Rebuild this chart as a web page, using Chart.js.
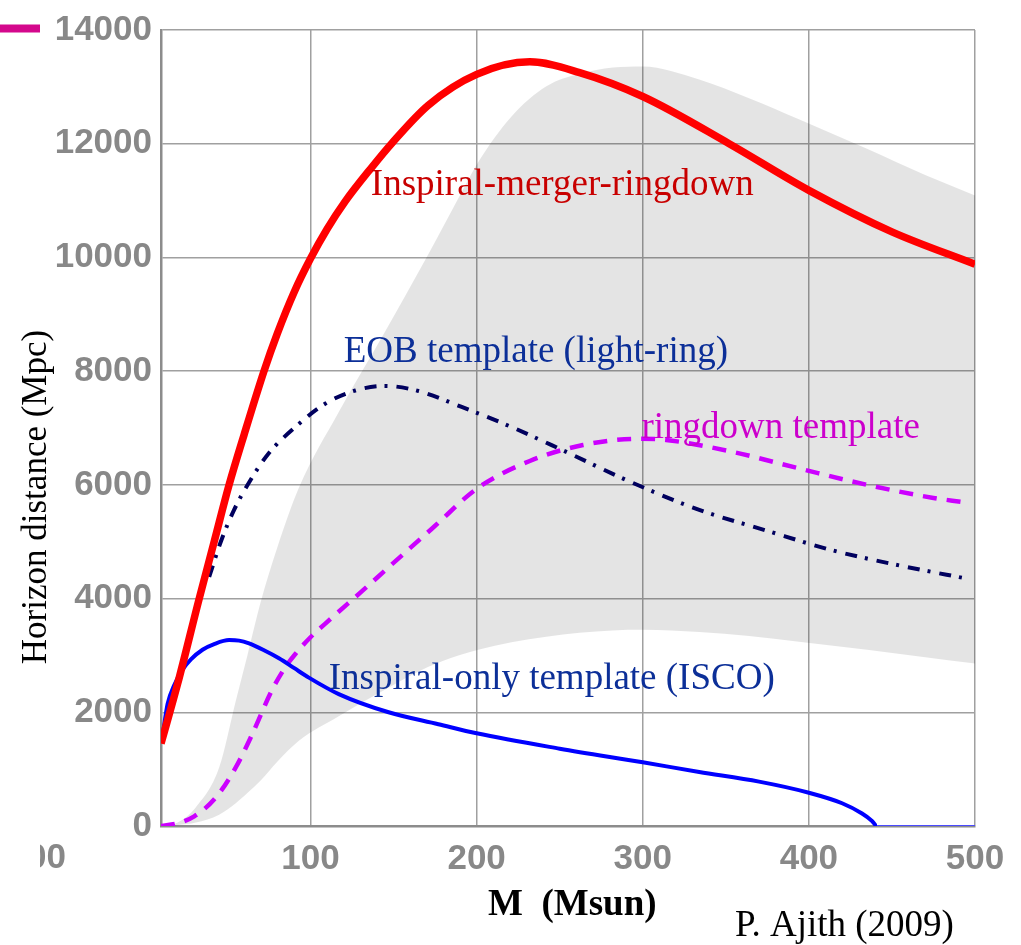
<!DOCTYPE html>
<html>
<head>
<meta charset="utf-8">
<title>Horizon distance</title>
<script src="https://cdn.jsdelivr.net/npm/chart.js@4/dist/chart.umd.min.js"></script>
<style>
  html, body { margin: 0; padding: 0; background: #fff; }
  #wrap { width: 1021px; height: 945px; position: relative; }
</style>
</head>
<body>
<div id="wrap"><canvas id="grafico"></canvas></div>
<script>
// total mass (Msun) and horizon distance (Mpc) for each template family
const imrMass = [10, 20, 33, 42, 51, 60, 72, 80, 90, 100, 110, 121, 137, 149, 171, 200, 232, 262, 300, 352, 400, 450, 500];
const imrDist = [1450, 2500, 4000, 5000, 6000, 6880, 8000, 8660, 9380, 9980, 10500, 10990, 11590, 12010, 12680, 13220, 13440, 13250, 12830, 12000, 11180, 10450, 9880];

const eobMass = [39, 46, 54, 64, 75, 91, 109, 127, 145, 165, 191, 220, 251, 292, 334, 374, 414, 455, 497];
const eobDist = [4380, 5000, 5560, 6090, 6560, 7020, 7430, 7660, 7740, 7650, 7370, 7030, 6620, 6060, 5560, 5200, 4850, 4580, 4340];

const ringMass = [10, 20, 30, 43, 55, 65, 77, 85, 91, 100, 112, 131, 147, 175, 200, 232, 264, 298, 314, 354, 394, 435, 475, 492];
const ringDist = [0, 50, 170, 500, 1030, 1620, 2400, 2800, 3030, 3320, 3640, 4130, 4550, 5280, 5930, 6420, 6700, 6810, 6790, 6580, 6290, 6000, 5770, 5700];

const iscoMass = [11, 14, 18, 23, 28, 35, 42, 51, 57, 63, 72, 81, 90, 99, 117, 147, 177, 200, 250, 300, 334, 370, 400, 420, 432, 438, 441, 500];
const iscoDist = [1600, 2150, 2480, 2750, 2930, 3100, 3200, 3270, 3260, 3210, 3090, 2950, 2780, 2610, 2320, 2000, 1790, 1630, 1360, 1120, 950, 780, 585, 400, 220, 90, 0, 0];

// spread of the IMR horizon (shaded band)
const bandMass = [10, 20, 31, 45, 55, 62, 70, 80, 93, 117, 145, 171, 189, 201, 221, 242, 262, 282, 300, 334, 364, 394, 435, 470, 500];
const bandLow = [0, 15, 60, 200, 400, 580, 800, 1130, 1500, 1930, 2400, 2800, 3000, 3100, 3230, 3330, 3400, 3440, 3450, 3410, 3340, 3240, 3100, 2970, 2860];
const bandHigh = [0, 60, 330, 1030, 2200, 3000, 3940, 4900, 5950, 7280, 8700, 10060, 11040, 11680, 12480, 13010, 13230, 13340, 13360, 13130, 12800, 12430, 11910, 11450, 11090];

const massTicks = [100, 200, 300, 400, 500];

const rotulos = [
  { text: "Inspiral-merger-ringdown", m: 136.3, d: 11090, color: "#c80000" },
  { text: "EOB template (light-ring)", m: 120.0, d: 8160, color: "#0c2f98" },
  { text: "ringdown template", m: 299.2, d: 6818, color: "#cc00cc" },
  { text: "Inspiral-only template (ISCO)", m: 111.0, d: 2406, color: "#0c2f98" },
];

function pontos(xs, ys) {
  return xs.map((x, i) => ({ x: x, y: ys[i] }));
}

const serif = "'Liberation Serif', 'Times New Roman', serif";
const sans = "'Liberation Sans', Arial, sans-serif";

const textos = {
  id: "textos",
  afterDatasetsDraw(chart) {
    const ctx = chart.ctx;
    const sx = chart.scales.x;
    const sy = chart.scales.y;
    ctx.save();
    ctx.textBaseline = "alphabetic";
    ctx.textAlign = "left";
    ctx.font = "37px " + serif;
    rotulos.forEach((r) => {
      ctx.fillStyle = r.color;
      ctx.fillText(r.text, sx.getPixelForValue(r.m), sy.getPixelForValue(r.d));
    });
    ctx.restore();
  },
  afterDraw(chart) {
    const ctx = chart.ctx;
    ctx.save();
    ctx.fillStyle = "#000";
    ctx.textBaseline = "alphabetic";

    ctx.font = "bold 37px " + serif;
    ctx.fillText("M  (Msun)", 488, 915);

    ctx.font = "37px " + serif;
    ctx.fillText("P. Ajith (2009)", 735, 936);

    ctx.save();
    ctx.translate(46, 497);
    ctx.rotate(-Math.PI / 2);
    ctx.textAlign = "center";
    ctx.font = "35px " + serif;
    ctx.fillText("Horizon distance (Mpc)", 0, 0);
    ctx.restore();

    // leftover pieces at the left edge
    ctx.save();
    ctx.beginPath();
    ctx.rect(40, 830, 40, 60);
    ctx.clip();
    ctx.fillStyle = "#888";
    ctx.font = "bold 35px " + sans;
    ctx.textAlign = "right";
    ctx.textBaseline = "middle";
    ctx.fillText("00", 66, 858);
    ctx.restore();

    ctx.strokeStyle = "#d4088c";
    ctx.lineWidth = 8;
    ctx.beginPath();
    ctx.moveTo(0, 28.5);
    ctx.lineTo(40, 28.5);
    ctx.stroke();
    ctx.restore();
  },
};

const linha = {
  pointRadius: 0,
  fill: false,
  cubicInterpolationMode: "monotone",
};

const ctx = document.getElementById("grafico").getContext("2d");

new Chart(ctx, {
  type: "line",
  data: {
    datasets: [
      {
        ...linha,
        label: "Inspiral-merger-ringdown",
        data: pontos(imrMass, imrDist),
        borderColor: "#ff0000",
        borderWidth: 7.5,
      },
      {
        ...linha,
        label: "Inspiral-only template (ISCO)",
        data: pontos(iscoMass, iscoDist),
        borderColor: "#0000ff",
        borderWidth: 4,
        segment: {
          borderWidth: (c) => (c.p0.parsed.y === 0 ? 2 : 4),
          borderColor: (c) => (c.p0.parsed.y === 0 ? "#4b4bff" : "#0000ff"),
        },
      },
      {
        ...linha,
        label: "EOB template (light-ring)",
        data: pontos(eobMass, eobDist),
        borderColor: "#00005e",
        borderWidth: 4,
        borderDash: [12, 8, 3, 9],
      },
      {
        ...linha,
        label: "ringdown template",
        data: pontos(ringMass, ringDist),
        borderColor: "#cc00ff",
        borderWidth: 4.5,
        borderDash: [14, 10],
      },
      {
        ...linha,
        label: "band low",
        data: pontos(bandMass, bandLow),
        borderWidth: 0,
        borderColor: "rgba(0,0,0,0)",
      },
      {
        ...linha,
        label: "band high",
        data: pontos(bandMass, bandHigh),
        borderWidth: 0,
        borderColor: "rgba(0,0,0,0)",
        backgroundColor: "rgba(0,0,0,0.105)",
        fill: "-1",
      },
    ],
  },
  options: {
    responsive: true,
    maintainAspectRatio: false,
    animation: false,
    devicePixelRatio: 1,
    layout: { padding: { top: 23, right: 46, left: 0, bottom: 0 } },
    plugins: {
      legend: { display: false },
      tooltip: { enabled: false },
    },
    scales: {
      x: {
        type: "linear",
        min: 10,
        max: 500,
        afterBuildTicks: (scale) => {
          scale.ticks = massTicks.map((v) => ({ value: v }));
        },
        afterFit: (scale) => {
          scale.height = 119;
        },
        grid: { color: "#a0a0a0", lineWidth: 1.5, drawTicks: false },
        border: { color: "#8c8c8c", width: 2.5 },
        ticks: {
          color: "#888",
          font: { family: sans, size: 35, weight: "bold" },
          padding: 12,
          maxRotation: 0,
          callback: (v) => String(v),
        },
      },
      y: {
        min: 0,
        max: 14000,
        afterFit: (scale) => {
          scale.width = 161;
        },
        grid: { color: "#a0a0a0", lineWidth: 1.5, drawTicks: false },
        border: { color: "#8c8c8c", width: 2.5 },
        ticks: {
          stepSize: 2000,
          color: "#888",
          font: { family: sans, size: 35, weight: "bold" },
          padding: 9,
          callback: (v) => String(v),
        },
      },
    },
  },
  plugins: [textos],
});
</script>
</body>
</html>
